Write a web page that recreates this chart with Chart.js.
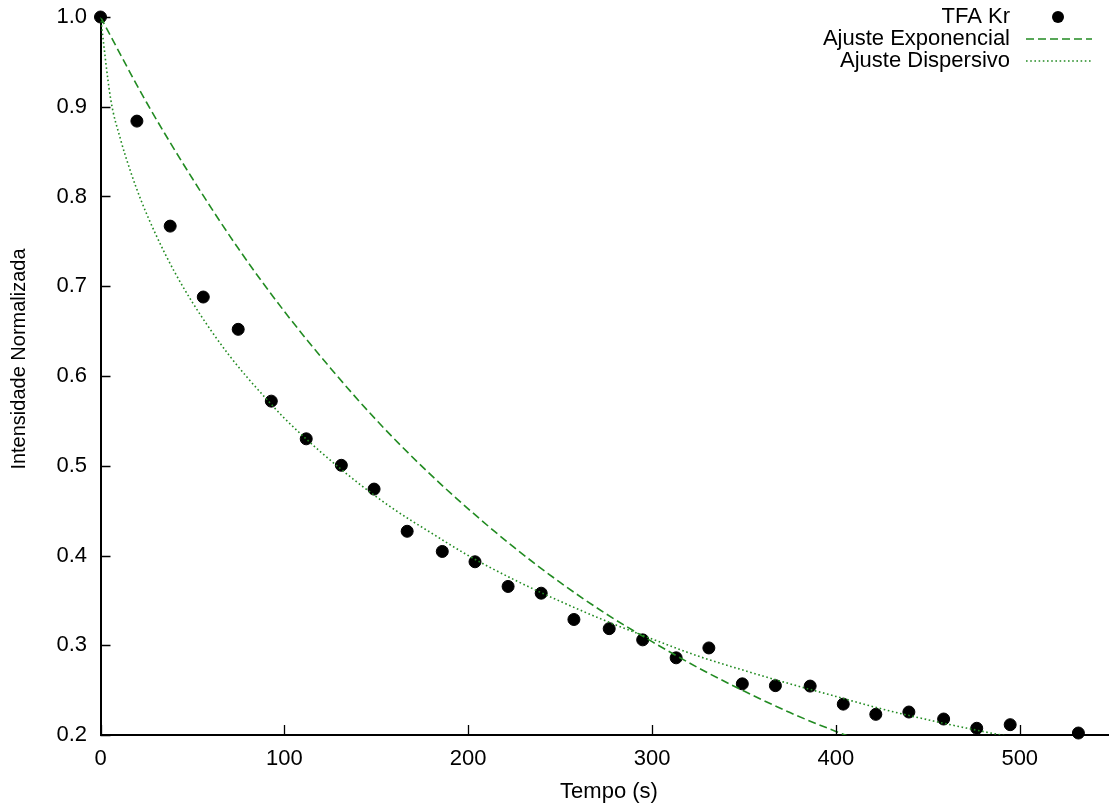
<!DOCTYPE html>
<html>
<head>
<meta charset="utf-8">
<script src="https://cdn.jsdelivr.net/npm/chart.js@4/dist/chart.umd.min.js"></script>
<style>
  html, body { margin: 0; padding: 0; background: #fff; }
  #wrap { width: 1115px; height: 809px; position: relative; }
</style>
</head>
<body>
<div id="wrap"><canvas id="c" width="1115" height="809"></canvas></div>
<script>
// Measured decay of normalized intensity (TFA Kr)
const tempos = [0, 19.8, 37.9, 55.9, 74.9, 92.9, 111.9, 131.0, 148.8, 166.8, 185.9, 203.7, 221.7,
  239.7, 257.5, 276.7, 294.9, 313.1, 330.9, 349.1, 367.1, 386.0, 404.0, 421.7, 439.7, 458.6,
  476.6, 494.8, 531.9];
const intensidades = [1.000, 0.884, 0.767, 0.688, 0.652, 0.572, 0.530, 0.5005, 0.474, 0.427, 0.4045,
  0.393, 0.3655, 0.358, 0.3287, 0.3185, 0.306, 0.286, 0.297, 0.257, 0.255, 0.2545, 0.2344,
  0.223, 0.2256, 0.2178, 0.2075, 0.2115, 0.2022];

// Exponential fit curve, sampled
const expTempos = [0, 25, 50, 75, 100, 125, 150, 175, 200, 225, 250, 275, 300, 325, 350, 375, 400, 425];
const expValores = [1.000, 0.905, 0.820, 0.742, 0.672, 0.609, 0.551, 0.499, 0.452, 0.409, 0.370,
  0.335, 0.304, 0.275, 0.249, 0.225, 0.204, 0.185];

// Dispersive (stretched) fit curve, sampled
const dispTempos = [0, 5.5, 11, 16.5, 22, 30, 40, 50, 60, 70, 80, 90, 100, 120, 140, 160, 180, 200,
  225, 250, 275, 300, 325, 350, 375, 400, 425, 450, 475, 500];
const dispValores = [1.000, 0.909, 0.863, 0.827, 0.796, 0.758, 0.717, 0.682, 0.651, 0.623, 0.598,
  0.575, 0.553, 0.515, 0.481, 0.451, 0.425, 0.400, 0.373, 0.349, 0.327, 0.307, 0.288, 0.272,
  0.257, 0.243, 0.229, 0.217, 0.206, 0.196];

const seriesLabels = ['TFA Kr', 'Ajuste Exponencial', 'Ajuste Dispersivo'];
const xTitle = 'Tempo (s)';
const yTitle = 'Intensidade Normalizada';

const FONT = '"Liberation Sans", Arial, Helvetica, sans-serif';
const GREEN = '#228b22';

const pts = (xs, ys) => xs.map((x, i) => ({ x: x, y: ys[i] }));

// Inward tick marks, axis titles and a gnuplot-style key (text left, sample right)
const decorations = {
  id: 'decorations',
  afterDraw(chart) {
    const ctx = chart.ctx;
    const xs = chart.scales.x, ys = chart.scales.y;
    const a = chart.chartArea;
    ctx.save();
    ctx.strokeStyle = '#000';
    ctx.lineWidth = 1.3;
    ctx.beginPath();
    ys.ticks.forEach(t => {
      const y = Math.round(ys.getPixelForValue(t.value)) + 0.5;
      ctx.moveTo(a.left, y); ctx.lineTo(a.left + 10, y);
    });
    xs.ticks.forEach(t => {
      const x = Math.round(xs.getPixelForValue(t.value)) + 0.5;
      ctx.moveTo(x, a.bottom); ctx.lineTo(x, a.bottom - 10);
    });
    ctx.stroke();

    // axis titles
    ctx.fillStyle = '#000';
    ctx.textAlign = 'center';
    ctx.textBaseline = 'middle';
    ctx.font = '22px ' + FONT;
    ctx.fillText(xTitle, 609, 792);
    ctx.save();
    ctx.translate(19, 359);
    ctx.rotate(-Math.PI / 2);
    ctx.font = '20px ' + FONT;
    ctx.fillText(yTitle, 0, 0);
    ctx.restore();

    // key
    const rows = [17, 39, 61];
    ctx.font = '22px ' + FONT;
    ctx.textAlign = 'right';
    chart.data.datasets.forEach((ds, i) => {
      const y = rows[i];
      ctx.fillStyle = '#000';
      ctx.fillText(ds.label, 1010, y);
      if (i === 0) {
        ctx.beginPath();
        ctx.arc(1058, y, ds.pointRadius, 0, Math.PI * 2);
        ctx.fill();
      } else {
        ctx.beginPath();
        ctx.strokeStyle = ds.borderColor;
        ctx.lineWidth = ds.borderWidth;
        ctx.setLineDash(ds.borderDash);
        ctx.moveTo(1026, y); ctx.lineTo(1092, y);
        ctx.stroke();
        ctx.setLineDash([]);
      }
    });
    ctx.restore();
  }
};

new Chart(document.getElementById('c'), {
  type: 'scatter',
  data: {
    datasets: [
      {
        label: seriesLabels[0],
        data: pts(tempos, intensidades),
        backgroundColor: '#000',
        borderColor: '#000',
        pointRadius: 6,
        pointHoverRadius: 6,
        showLine: false,
        clip: false,
        order: 3
      },
      {
        label: seriesLabels[1],
        data: pts(expTempos, expValores),
        showLine: true,
        borderColor: GREEN,
        borderWidth: 1.6,
        borderDash: [8, 4],
        pointRadius: 0,
        cubicInterpolationMode: 'monotone',
        order: 2
      },
      {
        label: seriesLabels[2],
        data: pts(dispTempos, dispValores),
        showLine: true,
        borderColor: GREEN,
        borderWidth: 1.6,
        borderDash: [1.6, 2.6],
        pointRadius: 0,
        cubicInterpolationMode: 'monotone',
        order: 1
      }
    ]
  },
  options: {
    responsive: false,
    animation: false,
    devicePixelRatio: 1,
    layout: { padding: { top: 17, left: 0, right: 0, bottom: 0 } },
    plugins: { legend: { display: false }, tooltip: { enabled: false } },
    scales: {
      x: {
        type: 'linear',
        min: 0, max: 548,
        afterFit: s => { s.height = 74; s.paddingLeft = 0; s.paddingRight = 0; },
        grid: { display: false, drawTicks: false },
        border: { display: true, color: '#000', width: 2 },
        ticks: {
          stepSize: 100, includeBounds: false, padding: 11,
          color: '#000', font: { family: FONT, size: 22 }, maxRotation: 0
        }
      },
      y: {
        min: 0.2, max: 1.0,
        afterFit: s => { s.width = 100.5; s.paddingTop = 0; s.paddingBottom = 0; },
        grid: { display: false, drawTicks: false },
        border: { display: true, color: '#000', width: 2 },
        ticks: {
          stepSize: 0.1, includeBounds: false, padding: 13.5,
          color: '#000', font: { family: FONT, size: 22 },
          callback: v => Number(v).toFixed(1)
        }
      }
    }
  },
  plugins: [decorations]
});
</script>
</body>
</html>
